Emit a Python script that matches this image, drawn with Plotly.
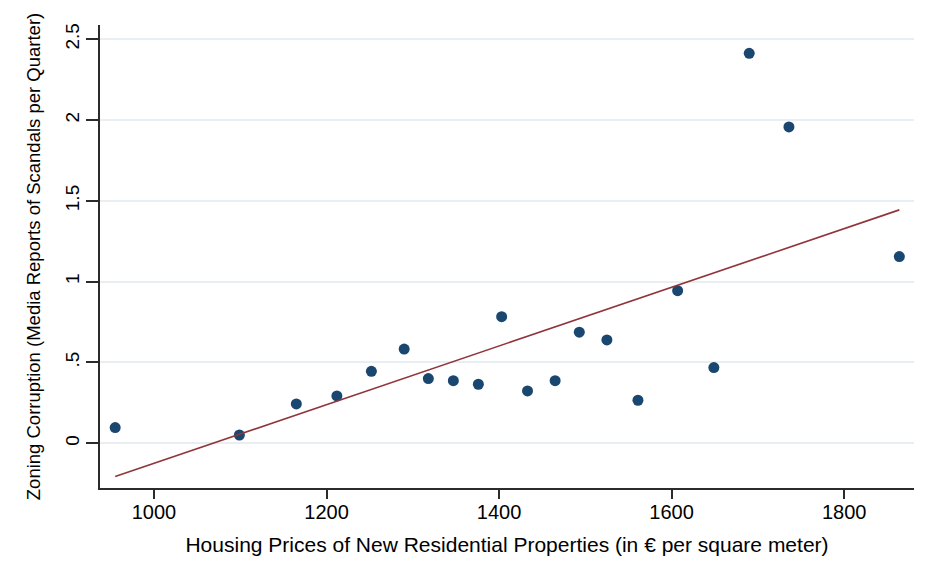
import plotly.graph_objects as go

# Data
price = [955, 1099, 1165, 1212, 1252, 1290, 1318, 1347, 1376, 1403,
         1433, 1465, 1493, 1525, 1561, 1607, 1649, 1690, 1736, 1864]
corruption = [0.097, 0.051, 0.243, 0.293, 0.445, 0.583, 0.400, 0.387, 0.365, 0.783,
              0.324, 0.387, 0.687, 0.639, 0.266, 0.944, 0.468, 2.413, 1.957, 1.155]

fit_x = [955, 1864]
fit_y = [-0.206, 1.444]

x_ticks = [1000, 1200, 1400, 1600, 1800]
x_ticklabels = ["1000", "1200", "1400", "1600", "1800"]
y_ticks = [0, 0.5, 1, 1.5, 2, 2.5]
y_ticklabels = ["0", ".5", "1", "1.5", "2", "2.5"]

FONT = "Arial, Liberation Sans, sans-serif"
NAVY = "#1a476f"
MAROON = "#90353b"
AXIS = "#2b2b2b"
GRID = "#e8eef1"

fig = go.Figure()
fig.add_trace(go.Scatter(x=price, y=corruption, mode="markers",
                         marker=dict(color=NAVY, size=11, line=dict(width=0)),
                         showlegend=False, hoverinfo="x+y"))
fig.add_trace(go.Scatter(x=fit_x, y=fit_y, mode="lines",
                         line=dict(color=MAROON, width=1.6),
                         showlegend=False, hoverinfo="skip"))

fig.update_layout(
    width=918, height=553,
    margin=dict(l=92, r=12, t=17, b=73),
    paper_bgcolor="white", plot_bgcolor="white",
    font=dict(family=FONT, color="#000000"),
    xaxis=dict(
        range=[937.4, 1881], tickmode="array", tickvals=x_ticks, ticktext=x_ticklabels,
        showgrid=False, zeroline=False, showline=True, linecolor=AXIS, linewidth=1.5,
        ticks="outside", ticklen=9, tickwidth=1.5, tickcolor=AXIS,
        ticklabelstandoff=-4,
        tickfont=dict(size=20, family=FONT, color="#000"),
        title=dict(text="Housing Prices of New Residential Properties (in € per square meter)",
                   font=dict(size=21, family=FONT, color="#000"), standoff=16),
        automargin=False,
    ),
    yaxis=dict(
        range=[-0.277, 2.588], tickmode="array", tickvals=y_ticks, ticktext=y_ticklabels,
        showgrid=True, gridcolor=GRID, gridwidth=1.5, zeroline=False,
        showline=True, linecolor=AXIS, linewidth=1.5,
        ticks="outside", ticklen=12, tickwidth=1.5, tickcolor=AXIS,
        tickangle=-90,
        tickfont=dict(size=19, family=FONT, color="#000"),
        title=dict(text="Zoning Corruption (Media Reports of Scandals per Quarter)",
                   font=dict(size=18.5, family=FONT, color="#000"), standoff=16),
        automargin=False,
    ),
    shapes=[
        dict(type="line", xref="paper", yref="paper", x0=-0.1167, x1=1.02, y0=1.041, y1=1.041,
             line=dict(color="#e6ecef", width=1)),
        dict(type="line", xref="paper", yref="paper", x0=-0.1167, x1=-0.1167, y0=1.041, y1=-0.2,
             line=dict(color="#e6ecef", width=1)),
    ],
)

fig.write_html("out.html")
